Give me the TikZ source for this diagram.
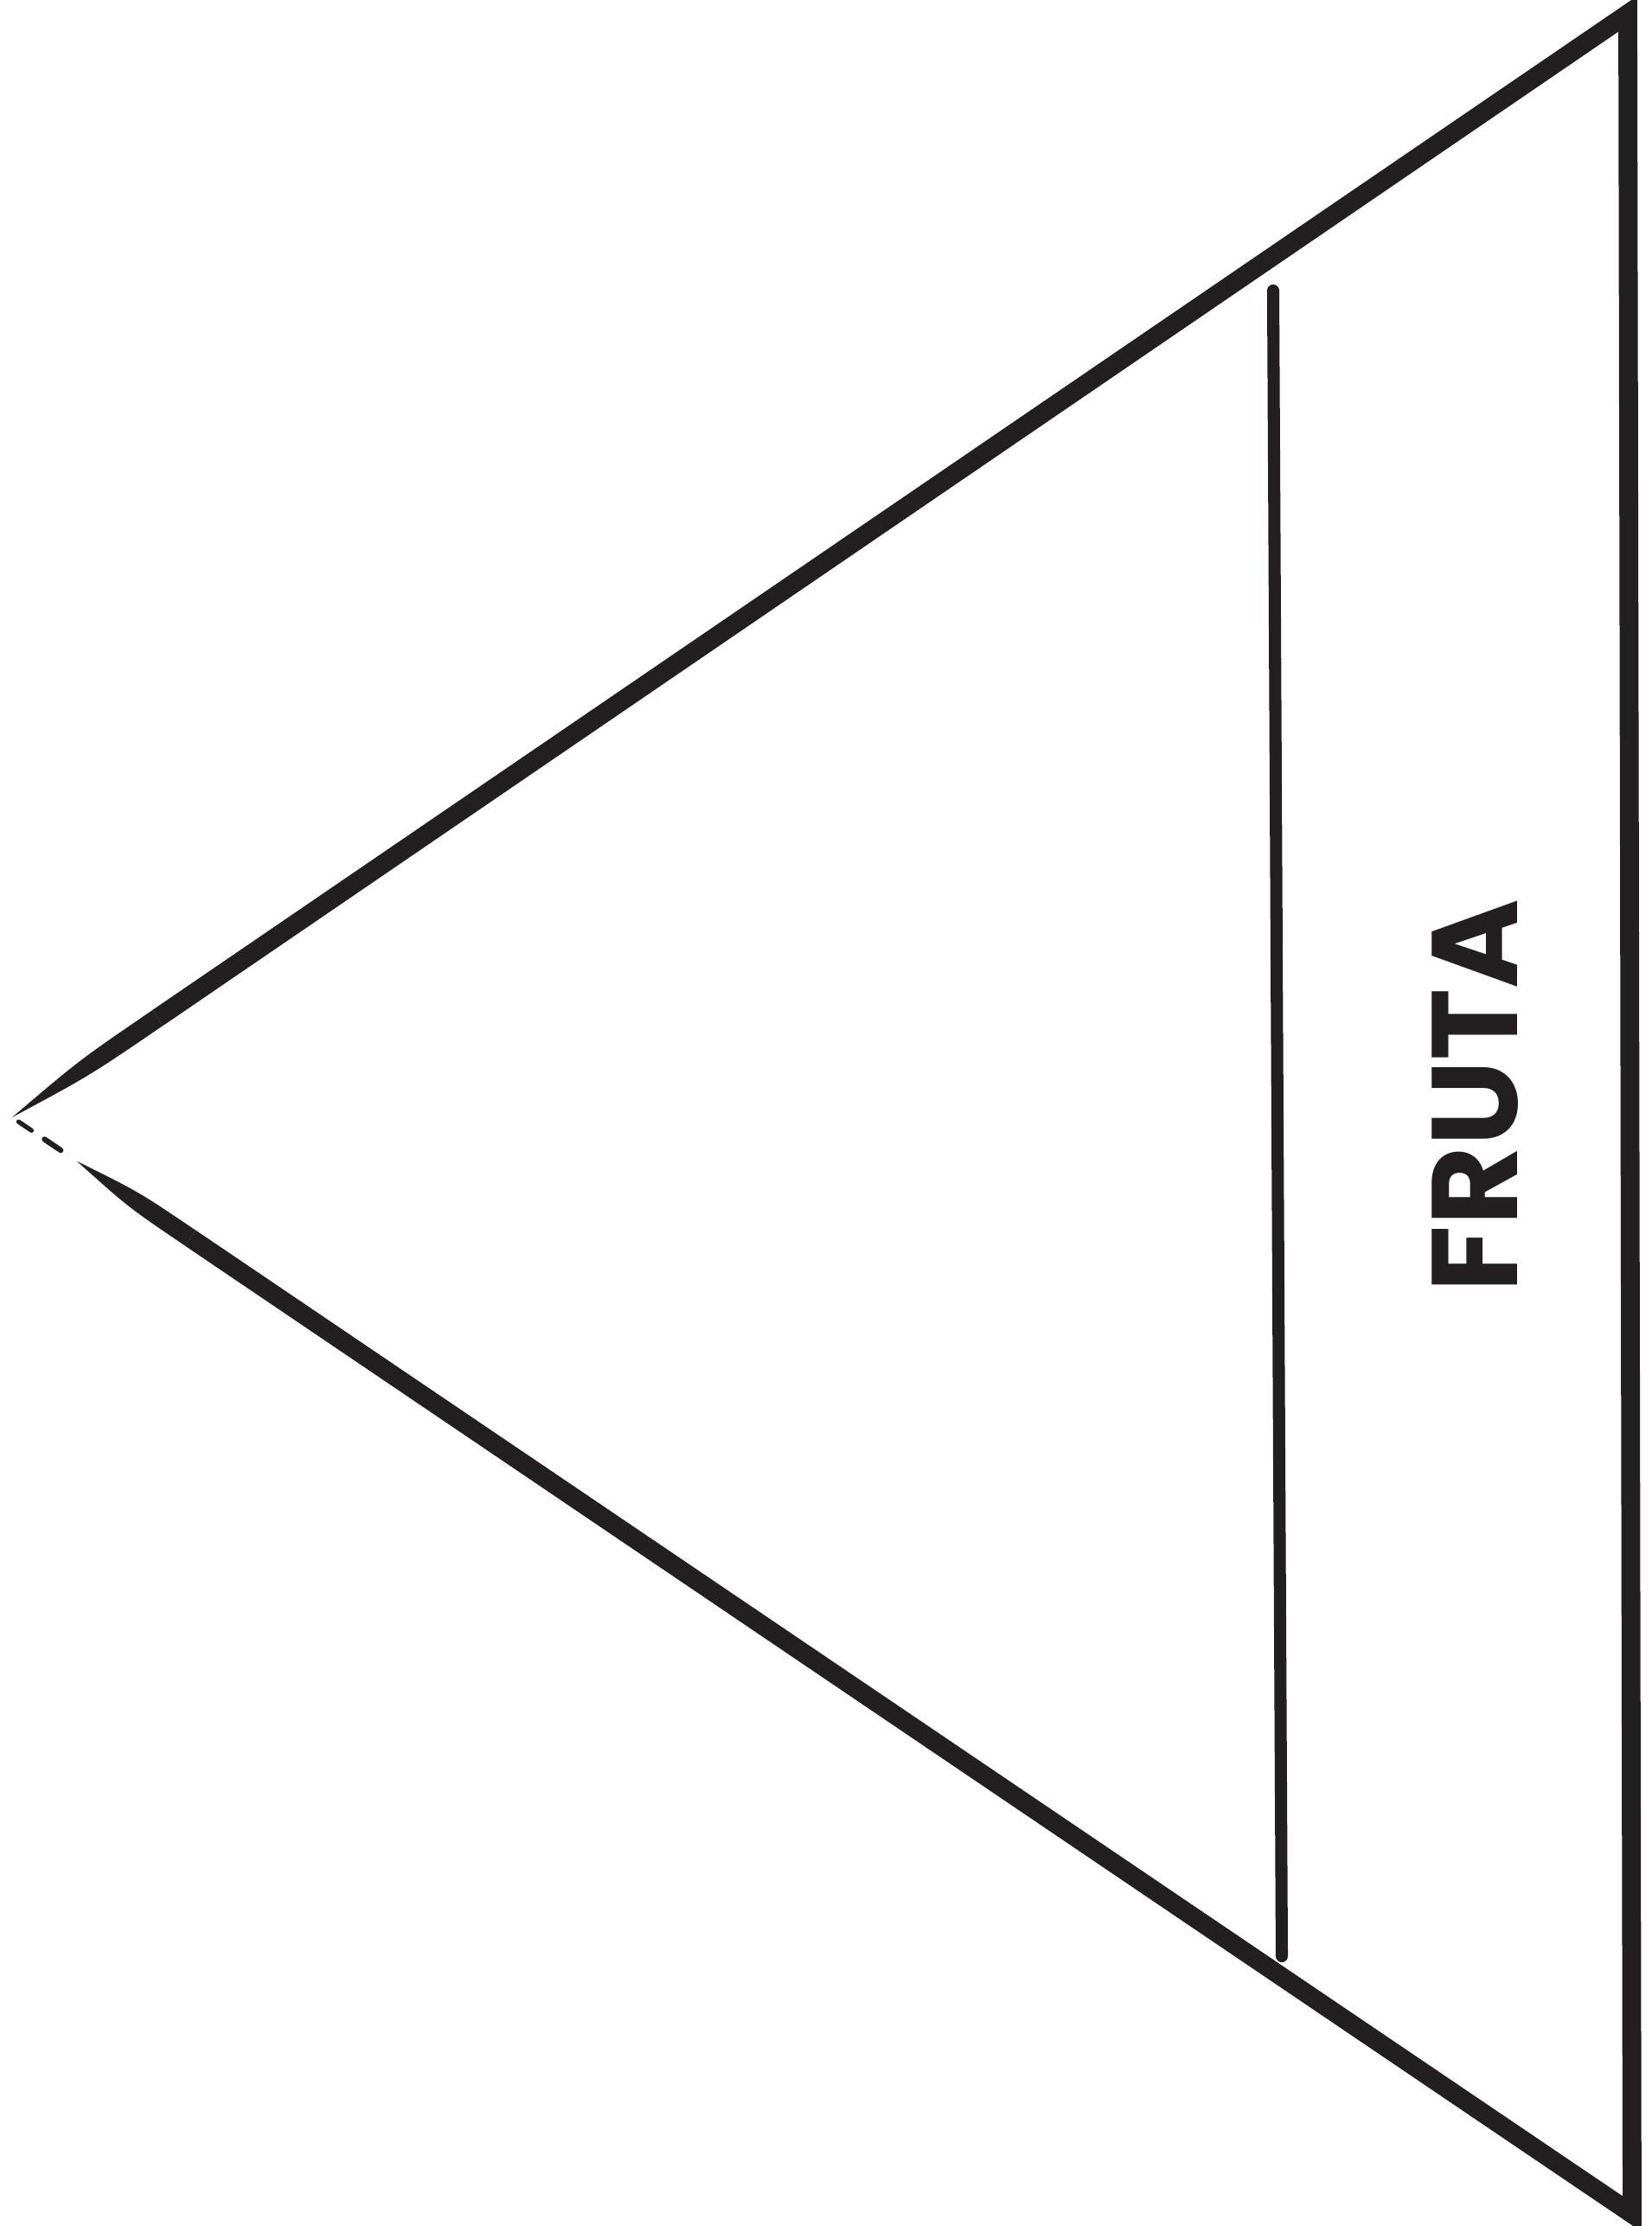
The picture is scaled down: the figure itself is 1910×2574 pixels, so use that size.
\documentclass[tikz,border=0pt]{standalone}
\usepackage{fontspec}
\setmainfont{Poppins}
\usepackage{xcolor}
\usepackage{tikz}
\usetikzlibrary{calc}
\definecolor{fink}{HTML}{231F20}
\tikzset{
  fedge/.style={draw=fink, line width=6.2pt, line join=miter},
  ftaper/.style={fill=fink, draw=none},
  fcut/.style={draw=fink, line width=4pt, line cap=round},
  flbl/.style={fink, font=\fontsize{40}{40}\selectfont\bfseries, inner sep=0pt},
}
\begin{document}
\begin{tikzpicture}[x=0.01cm,y=-0.01cm]
  \useasboundingbox (0,0) rectangle (1910,2574);

  \coordinate (apex) at (14,1292);
  \coordinate (tr)   at (1882,16);
  \coordinate (br)   at (1887,2560);
  \coordinate (cuttop) at (1472,336);
  \coordinate (cutbot) at (1482,2262);
  \coordinate (tp) at ($(apex)!0.09!(tr)$);
  \coordinate (tm) at ($(apex)!0.045!(tr)$);
  \coordinate (bq) at ($(apex)!0.04!(br)$);
  \coordinate (bp) at ($(apex)!0.11!(br)$);
  \coordinate (bm) at ($(apex)!0.075!(br)$);

  % outline of the cone
  \draw[fedge] (tp) -- (tr) -- (br) -- (bp);
  \fill[ftaper] (apex) .. controls ($(tm)!0.108cm!90:(tr)$) .. ($(tp)!0.108cm!90:(tr)$)
    -- ($(tp)!0.108cm!-90:(tr)$) .. controls ($(tm)!0.108cm!-90:(tr)$) .. (apex) -- cycle;
  \fill[ftaper] (bq) .. controls ($(bm)!0.108cm!90:(br)$) .. ($(bp)!0.108cm!90:(br)$)
    -- ($(bp)!0.108cm!-90:(br)$) .. controls ($(bm)!0.108cm!-90:(br)$) .. (bq) -- cycle;
  \draw[fink, line width=1.5pt, line cap=round] ($(apex)!0.004!(br)$) -- ($(apex)!0.012!(br)$);
  \draw[fink, line width=1.8pt, line cap=round] ($(apex)!0.02!(br)$) -- ($(apex)!0.03!(br)$);

  % fold line
  \draw[fcut] (cuttop) -- (cutbot);

  \node[flbl, rotate=90] (fruta) at (1706,1267) {FRUTA};
\end{tikzpicture}
\end{document}
